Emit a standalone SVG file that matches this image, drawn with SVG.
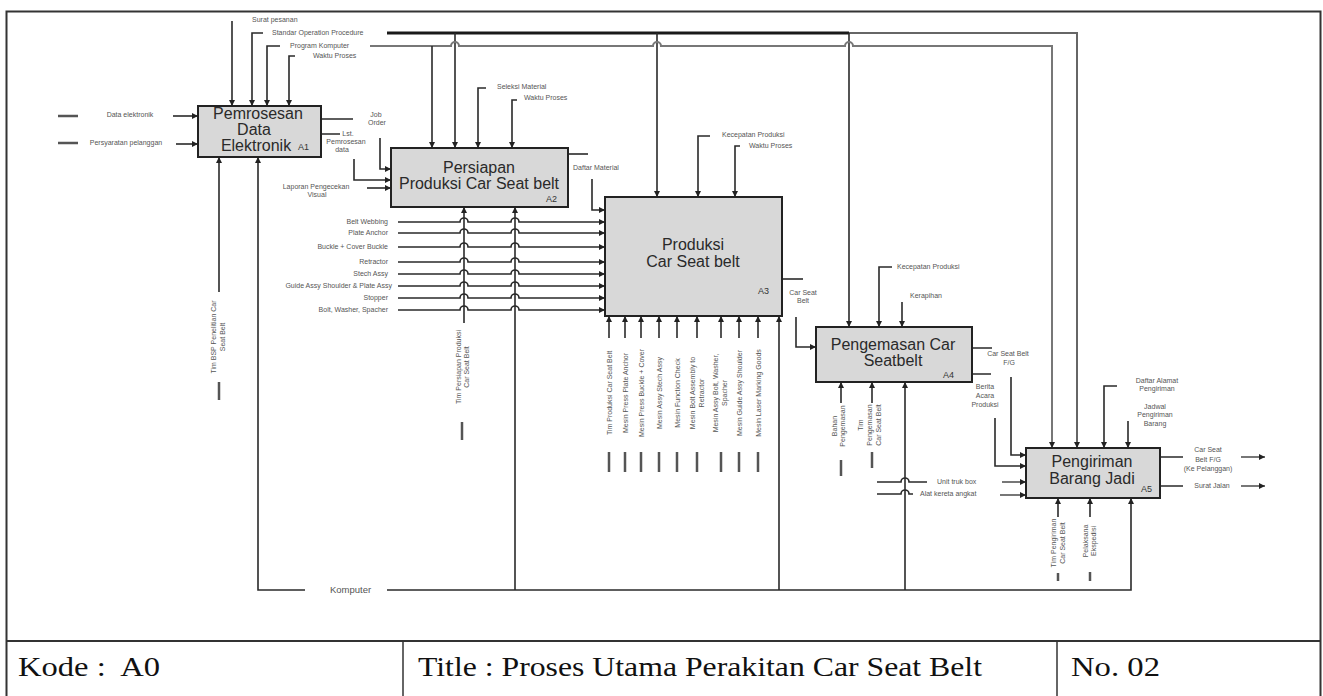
<svg xmlns="http://www.w3.org/2000/svg" width="1323" height="696" viewBox="0 0 1323 696">
<defs>
<marker id="ah" viewBox="0 0 10 10" refX="10" refY="5" markerWidth="7" markerHeight="6" orient="auto" markerUnits="userSpaceOnUse"><path d="M0,0 L10,5 L0,10 z" fill="#222"/></marker>
<style>
.box{fill:#d8d8d8;stroke:#222;stroke-width:2}
.bt{font-family:"Liberation Sans",Arial,sans-serif;font-size:16px;fill:#2a2a2a;text-anchor:middle}
.id{font-family:"Liberation Sans",Arial,sans-serif;font-size:9px;fill:#333}
.lb{font-family:"Liberation Sans",Arial,sans-serif;font-size:7px;fill:#555}
.m{text-anchor:middle}
.e{text-anchor:end}
.c{fill:none;stroke:#2a2a2a;stroke-width:1.6}
.a{marker-end:url(#ah)}
.g{fill:none;stroke:#777;stroke-width:2}
.s{fill:none;stroke:#555;stroke-width:2.5}
.tb{font-family:"Liberation Serif","Times New Roman",serif;font-size:28px;fill:#111}
</style>
</defs>
<rect width="1323" height="696" fill="#fff"/>
<g id="frame" fill="none" stroke="#333">
<rect x="6.5" y="11.5" width="1314" height="700" stroke-width="2"/>
<line x1="6" y1="641" x2="1321" y2="641" stroke-width="2"/>
<line x1="403" y1="641" x2="403" y2="696" stroke-width="1.5"/>
<line x1="1057" y1="641" x2="1057" y2="696" stroke-width="1.5"/>
</g>
<g id="title">
<text class="tb" x="18" y="676" textLength="142" lengthAdjust="spacingAndGlyphs">Kode :&#160; A0</text>
<text class="tb" x="418" y="676" textLength="564" lengthAdjust="spacingAndGlyphs">Title : Proses Utama Perakitan Car Seat Belt</text>
<text class="tb" x="1071" y="676" textLength="89" lengthAdjust="spacingAndGlyphs">No. 02</text>
</g>
<g id="connectors">
<path class="c a" d="M232,21 V106"/>
<path class="c a" d="M263,33 H252 V106"/>
<path class="c a" d="M280,46 H267 V106"/>
<path class="c a" d="M295,56 H289 V106"/>
<path d="M387,33 H849" fill="none" stroke="#1a1a1a" stroke-width="3"/>
<path class="a" d="M849,33 H1077 V448" fill="none" stroke="#666" stroke-width="2"/>
<path class="c a" d="M455,33 V148"/>
<path class="c a" d="M657,33 V197"/>
<path class="c a" d="M849,33 V327"/>
<path class="g a" d="M370,46 H451 a4,4 0 0 1 8,0 H653 a4,4 0 0 1 8,0 H845 a4,4 0 0 1 8,0 H1052 V448"/>
<path class="c a" d="M432,46 V148"/>
<path class="s" d="M58,116 H78 M58,143 H78"/>
<path class="c a" d="M173,116 H198"/>
<path class="c a" d="M176,144 H198"/>
<path class="c" d="M321,119 H353 M321,134 H340"/>
<path class="c a" d="M380,138 V169 H391"/>
<path class="c a" d="M354,159 V180 H391"/>
<path class="c a" d="M367,188 H391"/>
<path class="c a" d="M219,292 V157"/>
<path class="s" d="M219,382 V400"/>
<path class="c a" d="M305,590 H258 V157"/>
<path class="c a" d="M486,88 H478 V148"/>
<path class="c a" d="M517,100 H512 V148"/>
<path class="c" d="M568,154 H588"/>
<path class="c a" d="M592,179 V210 H605"/>
<path class="c a" d="M464,323 V207"/>
<path class="s" d="M462,422 V440"/>
<path class="c a" d="M387,590 H1131 V498"/>
<path class="c a" d="M515,590 V207"/>
<path class="c a" d="M779,590 V316"/>
<path class="c a" d="M905,590 V382"/>
<path class="c a" d="M398,222 H460 a4,4 0 0 1 8,0 H511 a4,4 0 0 1 8,0 H605"/>
<path class="c a" d="M398,233 H460 a4,4 0 0 1 8,0 H511 a4,4 0 0 1 8,0 H605"/>
<path class="c a" d="M398,247 H460 a4,4 0 0 1 8,0 H511 a4,4 0 0 1 8,0 H605"/>
<path class="c a" d="M398,262 H460 a4,4 0 0 1 8,0 H511 a4,4 0 0 1 8,0 H605"/>
<path class="c a" d="M398,274 H460 a4,4 0 0 1 8,0 H511 a4,4 0 0 1 8,0 H605"/>
<path class="c a" d="M398,286 H460 a4,4 0 0 1 8,0 H511 a4,4 0 0 1 8,0 H605"/>
<path class="c a" d="M398,298 H460 a4,4 0 0 1 8,0 H511 a4,4 0 0 1 8,0 H605"/>
<path class="c a" d="M398,310 H460 a4,4 0 0 1 8,0 H511 a4,4 0 0 1 8,0 H605"/>
<path class="c a" d="M710,136 H698 V197"/>
<path class="c a" d="M740,146 H735 V197"/>
<path class="c a" d="M609,338 V316"/>
<path class="c a" d="M625,338 V316"/>
<path class="c a" d="M641,338 V316"/>
<path class="c a" d="M659,338 V316"/>
<path class="c a" d="M677,338 V316"/>
<path class="c a" d="M697,338 V316"/>
<path class="c a" d="M721,338 V316"/>
<path class="c a" d="M739,338 V316"/>
<path class="c a" d="M758,338 V316"/>
<path class="s" d="M609,452 V472 M625,452 V472 M641,452 V472 M659,452 V472 M677,452 V472 M697,452 V472 M721,452 V472 M739,452 V472 M758,452 V472" stroke-width="2"/>
<path class="c" d="M782,279 H803"/>
<path class="c a" d="M796,317 V347 H816"/>
<path class="c a" d="M892,267 H879 V327"/>
<path class="c a" d="M902,302 V327"/>
<path class="c" d="M972,348 H992 M972,374 H991"/>
<path class="c a" d="M1011,377 V455 H1026"/>
<path class="c a" d="M995,418 V466 H1026"/>
<path class="c a" d="M841,403 V382"/>
<path class="s" d="M841,460 V476" stroke-width="2"/>
<path class="c a" d="M872,403 V382"/>
<path class="s" d="M872,452 V468" stroke-width="2"/>
<path class="c" d="M877,482 H901 a4,4 0 0 1 8,0 H927"/>
<path class="c" d="M877,494 H901 a4,4 0 0 1 8,0 H913"/>
<path class="g a" d="M1002,482 H1026"/>
<path class="g a" d="M1000,495 H1026"/>
<path class="c a" d="M1117,386 H1104 V448"/>
<path class="c a" d="M1128,421 V448"/>
<path class="c" d="M1160,457 H1183 M1160,486 H1183"/>
<path class="g a" d="M1241,457 H1265"/>
<path class="g a" d="M1241,486 H1265"/>
<path class="c a" d="M1058,517 V498"/>
<path class="s" d="M1058,573 V581" stroke-width="2"/>
<path class="c a" d="M1090,517 V498"/>
<path class="s" d="M1090,572 V581" stroke-width="2"/>
</g>
<g id="labels">
<text class="lb" x="252" y="22">Surat pesanan</text>
<text class="lb" x="272" y="35">Standar Operation Procedure</text>
<text class="lb" x="290" y="48">Program Komputer</text>
<text class="lb" x="313" y="58">Waktu Proses</text>
<text class="lb m" x="130" y="117">Data elektronik</text>
<text class="lb m" x="126" y="145">Persyaratan pelanggan</text>
<text class="lb m" x="376" y="117">Job</text>
<text class="lb m" x="377" y="125">Order</text>
<text class="lb m" x="348" y="136">Lst.</text>
<text class="lb m" x="346" y="144">Pemrosesan</text>
<text class="lb m" x="342" y="152">data</text>
<text class="lb m" x="316" y="189">Laporan Pengecekan</text>
<text class="lb m" x="317" y="197">Visual</text>
<text class="lb" x="497" y="89">Seleksi Material</text>
<text class="lb" x="524" y="100">Waktu Proses</text>
<text class="lb" x="573" y="170">Daftar Material</text>
<text class="lb e" x="388" y="224">Belt Webbing</text>
<text class="lb e" x="388" y="235">Plate Anchor</text>
<text class="lb e" x="388" y="249">Buckle + Cover Buckle</text>
<text class="lb e" x="388" y="264">Retractor</text>
<text class="lb e" x="388" y="276">Stech Assy</text>
<text class="lb e" x="392" y="288">Guide Assy Shoulder &amp; Plate Assy</text>
<text class="lb e" x="388" y="300">Stopper</text>
<text class="lb e" x="388" y="312">Bolt, Washer, Spacher</text>
<text class="lb" x="722" y="137">Kecepatan Produksi</text>
<text class="lb" x="749" y="148">Waktu Proses</text>
<text class="lb m" x="803" y="295">Car Seat</text>
<text class="lb m" x="803" y="303">Belt</text>
<text class="lb" x="897" y="269">Kecepatan Produksi</text>
<text class="lb" x="910" y="298">Kerapihan</text>
<text class="lb m" x="1008" y="356">Car Seat Belt</text>
<text class="lb m" x="1009" y="365">F/G</text>
<text class="lb m" x="985" y="389">Berita</text>
<text class="lb m" x="985" y="398">Acara</text>
<text class="lb m" x="985" y="407">Produksi</text>
<text class="lb" x="937" y="484">Unit truk box</text>
<text class="lb" x="920" y="496">Alat kereta angkat</text>
<text class="lb m" x="1157" y="383">Daftar Alamat</text>
<text class="lb m" x="1157" y="391">Pengiriman</text>
<text class="lb m" x="1155" y="409">Jadwal</text>
<text class="lb m" x="1155" y="417">Pengiriman</text>
<text class="lb m" x="1155" y="426">Barang</text>
<text class="lb m" x="1208" y="452">Car Seat</text>
<text class="lb m" x="1208" y="462">Belt F/G</text>
<text class="lb m" x="1208" y="471">(Ke Pelanggan)</text>
<text class="lb m" x="1212" y="488">Surat Jalan</text>
<text class="lb" x="330" y="593" style="font-size:9.5px">Komputer</text>
<text class="lb m" transform="translate(215.5,337) rotate(-90)">Tim BSP Penelitian Car<tspan x="0" dy="9">Seat Belt</tspan></text>
<text class="lb m" transform="translate(460.5,367) rotate(-90)">Tim Persiapan Produksi<tspan x="0" dy="8">Car Seat Belt</tspan></text>
<text class="lb m" transform="translate(611.5,393) rotate(-90)">Tim Produksi Car Seat Belt</text>
<text class="lb m" transform="translate(627.5,393) rotate(-90)">Mesin Press Plate Anchor</text>
<text class="lb m" transform="translate(643.5,393) rotate(-90)">Mesin Press Buckle + Cover</text>
<text class="lb m" transform="translate(661.5,393) rotate(-90)">Mesin Assy Stech Assy</text>
<text class="lb m" transform="translate(679.5,393) rotate(-90)">Mesin Function Check</text>
<text class="lb m" transform="translate(694.5,393) rotate(-90)">Mesin Bolt Assembly to<tspan x="0" dy="9">Retractor</tspan></text>
<text class="lb m" transform="translate(717.5,393) rotate(-90)">Mesin Assy Bolt, Washer,<tspan x="0" dy="9">Spacher</tspan></text>
<text class="lb m" transform="translate(741.5,393) rotate(-90)">Mesin Guide Assy Shoulder</text>
<text class="lb m" transform="translate(760.5,393) rotate(-90)">Mesin Laser Marking Goods</text>
<text class="lb m" transform="translate(836.5,426) rotate(-90)">Bahan<tspan x="0" dy="8">Pengemasan</tspan></text>
<text class="lb m" transform="translate(862.5,425) rotate(-90)">Tim<tspan x="0" dy="9">Pengemasan</tspan><tspan x="0" dy="9">Car Seat Belt</tspan></text>
<text class="lb m" transform="translate(1055.5,543) rotate(-90)">Tim Pengiriman<tspan x="0" dy="9">Car Seat Belt</tspan></text>
<text class="lb m" transform="translate(1087.5,541) rotate(-90)">Pelaksana<tspan x="0" dy="8">Ekspedisi</tspan></text>
</g>
<g id="a1">
<rect class="box" x="198" y="106" width="123" height="51"/>
<text class="bt" x="258" y="119">Pemrosesan</text>
<text class="bt" x="254" y="135">Data</text>
<text class="bt" x="256" y="151">Elektronik</text>
<text class="id" x="298" y="150">A1</text>
</g>
<g id="a2">
<rect class="box" x="391" y="148" width="177" height="59"/>
<text class="bt" x="479" y="173">Persiapan</text>
<text class="bt" x="479" y="189">Produksi Car Seat belt</text>
<text class="id" x="546" y="202">A2</text>
</g>
<g id="a3">
<rect class="box" x="605" y="197" width="177" height="119"/>
<text class="bt" x="693" y="250">Produksi</text>
<text class="bt" x="693" y="267">Car Seat belt</text>
<text class="id" x="758" y="294">A3</text>
</g>
<g id="a4">
<rect class="box" x="816" y="327" width="156" height="55"/>
<text class="bt" x="893" y="350">Pengemasan Car</text>
<text class="bt" x="893" y="366">Seatbelt</text>
<text class="id" x="943" y="378">A4</text>
</g>
<g id="a5">
<rect class="box" x="1026" y="448" width="134" height="50"/>
<text class="bt" x="1092" y="467">Pengiriman</text>
<text class="bt" x="1092" y="484">Barang Jadi</text>
<text class="id" x="1141" y="492">A5</text>
</g>
</svg>
